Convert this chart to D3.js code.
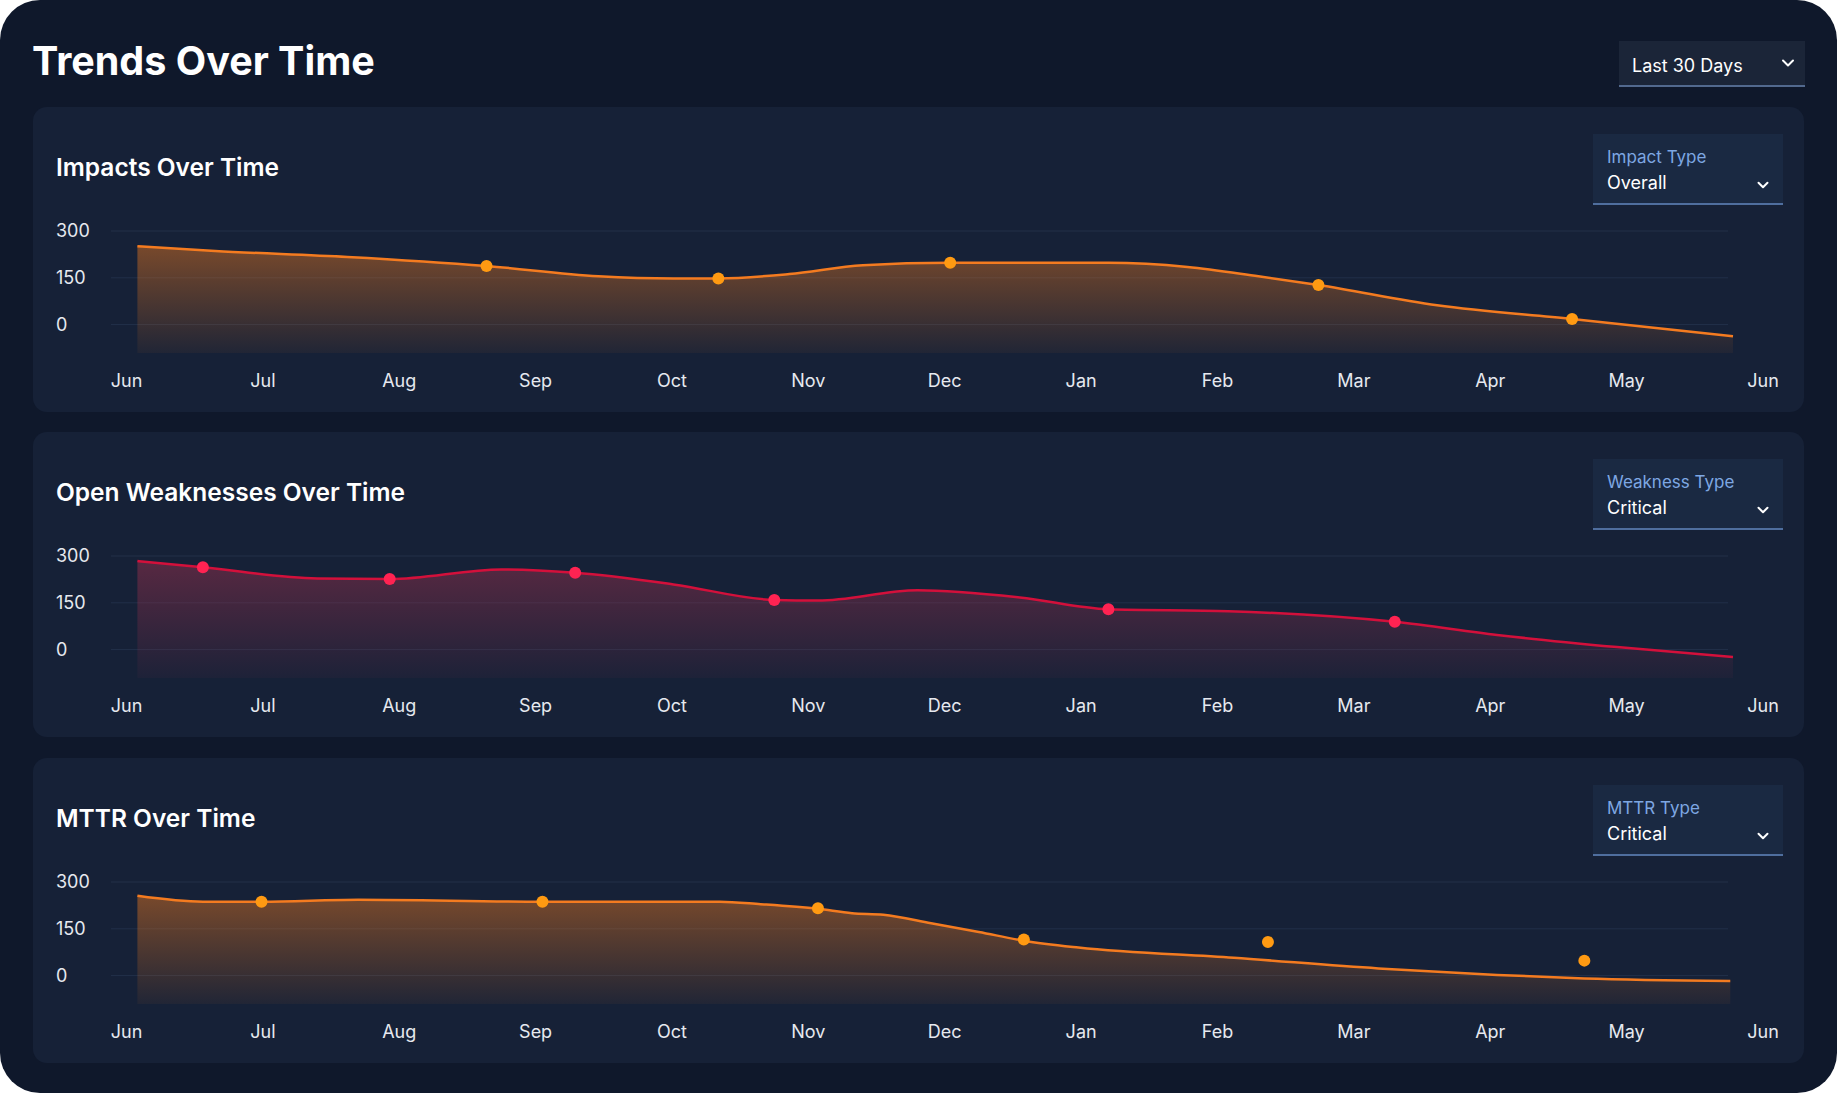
<!DOCTYPE html>
<html lang="en">
<head>
<meta charset="UTF-8">
<title>Trends Over Time</title>
<script src="https://cdn.jsdelivr.net/npm/d3@7/dist/d3.min.js"></script>
<style>
  html, body { margin: 0; padding: 0; background: #ffffff; }
  body { width: 1837px; height: 1093px; overflow: hidden; font-family: Inter, "Noto Sans", sans-serif; }
</style>
</head>
<body>
<svg id="chart" width="1837" height="1093"></svg>
<script>
// x axis: one tick per month, Jun -> Jun
const months = ["Jun","Jul","Aug","Sep","Oct","Nov","Dec","Jan","Feb","Mar","Apr","May","Jun"];
const yTicks = [0, 150, 300];

// Impacts over time (month position, value)
const impactsMonth = [0.08, 0.65, 1.62, 2.64, 3.46, 4.01, 4.34, 4.86, 5.4, 6.04, 7.2, 7.78, 8.3, 8.74, 9.61, 10.6, 11.78];
const impactsValue = [251, 236, 217, 188, 155, 148, 148, 162, 190, 198, 198, 185, 155, 127, 62, 18, -37];
const impactsDotMonth = [2.64, 4.34, 6.04, 8.74, 10.6];
const impactsDotValue = [188, 148, 198, 127, 18];

// Open weaknesses over time
const weakMonth = [0.08, 0.56, 1.4, 1.93, 2.75, 3.29, 4.01, 4.75, 5.07, 5.8, 6.55, 7.2, 8.08, 9.3, 10.05, 10.93, 11.78];
const weakValue = [284, 264, 228, 226, 257, 246, 209, 159, 157, 190, 167, 129, 123, 89, 47, 8, -24];
const weakDotMonth = [0.56, 1.93, 3.29, 4.75, 7.2, 9.3];
const weakDotValue = [264, 226, 246, 159, 129, 89];

// MTTR over time
const mttrMonth = [0.08, 0.56, 0.99, 1.7, 3.05, 4.35, 4.65, 5.07, 5.32, 5.55, 5.9, 6.25, 6.58, 6.98, 8.12, 9.18, 10.05, 10.69, 11.76];
const mttrValue = [256, 237, 237, 243, 237, 237, 229, 214, 200, 195, 168, 140, 112, 90, 57, 23, 2, -9, -17];
const mttrDotMonth = [0.99, 3.05, 5.07, 6.58, 8.37, 10.69];
const mttrDotValue = [237, 237, 216, 116, 108, 48];

const panels = [
  { title: "Impacts Over Time", selLabel: "Impact Type", selValue: "Overall",
    xs: impactsMonth, ys: impactsValue, dx: impactsDotMonth, dy: impactsDotValue,
    line: "#f47b20", dot: "#ff9a12", fill: "#f07a1e" },
  { title: "Open Weaknesses Over Time", selLabel: "Weakness Type", selValue: "Critical",
    xs: weakMonth, ys: weakValue, dx: weakDotMonth, dy: weakDotValue,
    line: "#d3103b", dot: "#ff2352", fill: "#a8324f" },
  { title: "MTTR Over Time", selLabel: "MTTR Type", selValue: "Critical",
    xs: mttrMonth, ys: mttrValue, dx: mttrDotMonth, dy: mttrDotValue,
    line: "#f47b20", dot: "#ff9a12", fill: "#f07a1e" }
];

const W = 1837, H = 1093;
const svg = d3.select("#chart");
const defs = svg.append("defs");

// page card
svg.append("rect").attr("width", W).attr("height", H).attr("rx", 40).attr("fill", "#0f182b");

svg.append("text").attr("x", 32).attr("y", 75)
  .attr("fill", "#ffffff").attr("font-size", 39.5).attr("font-weight", 700)
  .text("Trends Over Time");

function chevron(g, cx, cy, size) {
  g.append("path")
    .attr("d", `M${cx - size},${cy - size / 2} L${cx},${cy + size / 2} L${cx + size},${cy - size / 2}`)
    .attr("fill", "none").attr("stroke", "#ffffff").attr("stroke-width", 2)
    .attr("stroke-linecap", "round").attr("stroke-linejoin", "round");
}

// range dropdown
const rangeBox = svg.append("g");
rangeBox.append("rect").attr("x", 1619).attr("y", 41).attr("width", 186).attr("height", 46).attr("fill", "#1b2538");
rangeBox.append("line").attr("x1", 1619).attr("x2", 1805).attr("y1", 86).attr("y2", 86)
  .attr("stroke", "#52698e").attr("stroke-width", 2);
rangeBox.append("text").attr("x", 1632).attr("y", 72).attr("fill", "#ffffff").attr("font-size", 18).text("Last 30 Days");
chevron(rangeBox, 1788, 63, 5);

const x = d3.scaleLinear().domain([0, 12]).range([126.5, 1763]);
const panelTop = [107, 432, 758];

panels.forEach(function(p, i) {
  const g = svg.append("g").attr("transform", `translate(0,${panelTop[i]})`);
  const y = d3.scaleLinear().domain([-91, 300]).range([246, 124]);

  g.append("rect").attr("x", 33).attr("y", 0).attr("width", 1771).attr("height", 305)
    .attr("rx", 14).attr("fill", "#162137");

  g.append("text").attr("x", 56).attr("y", 69).attr("fill", "#ffffff")
    .attr("font-size", 24.5).attr("font-weight", 600).text(p.title);

  // type selector
  g.append("rect").attr("x", 1593).attr("y", 27).attr("width", 190).attr("height", 70).attr("fill", "#1a2942");
  g.append("line").attr("x1", 1593).attr("x2", 1783).attr("y1", 97).attr("y2", 97)
    .attr("stroke", "#4f6e9e").attr("stroke-width", 2);
  g.append("text").attr("x", 1607).attr("y", 56).attr("fill", "#7ea7e3").attr("font-size", 17).text(p.selLabel);
  g.append("text").attr("x", 1607).attr("y", 82).attr("fill", "#ffffff").attr("font-size", 18).text(p.selValue);
  chevron(g, 1763, 78, 4.5);

  // grid + y labels
  g.selectAll(".grid").data(yTicks).enter().append("line")
    .attr("x1", 111).attr("x2", 1728)
    .attr("y1", d => y(d)).attr("y2", d => y(d))
    .attr("stroke", "#223049").attr("stroke-width", 1);
  g.selectAll(".ylab").data(yTicks).enter().append("text")
    .attr("x", 56).attr("y", d => y(d)).attr("dy", "0.35em")
    .attr("fill", "#e6e9ef").attr("font-size", 18).text(d => d);

  // month labels
  g.selectAll(".xlab").data(months).enter().append("text")
    .attr("x", (d, j) => x(j)).attr("y", 274).attr("dy", "0.35em")
    .attr("text-anchor", "middle").attr("fill", "#e6e9ef").attr("font-size", 18).text(d => d);

  const pts = p.xs.map((m, j) => [m, p.ys[j]]);

  const grad = defs.append("linearGradient").attr("id", "fill" + i)
    .attr("x1", 0).attr("x2", 0).attr("y1", 0).attr("y2", 1);
  grad.append("stop").attr("offset", 0).attr("stop-color", p.fill).attr("stop-opacity", 0.45);
  grad.append("stop").attr("offset", 1).attr("stop-color", p.fill).attr("stop-opacity", 0.05);

  const area = d3.area().x(d => x(d[0])).y0(y(-91)).y1(d => y(d[1])).curve(d3.curveMonotoneX);
  const line = d3.line().x(d => x(d[0])).y(d => y(d[1])).curve(d3.curveMonotoneX);

  g.append("path").datum(pts).attr("d", area).attr("fill", `url(#fill${i})`);
  g.append("path").datum(pts).attr("d", line).attr("fill", "none")
    .attr("stroke", p.line).attr("stroke-width", 2.5);

  g.selectAll(".dot").data(p.dx).enter().append("circle")
    .attr("cx", d => x(d)).attr("cy", (d, j) => y(p.dy[j])).attr("r", 6)
    .attr("fill", p.dot);
});
</script>
</body>
</html>
